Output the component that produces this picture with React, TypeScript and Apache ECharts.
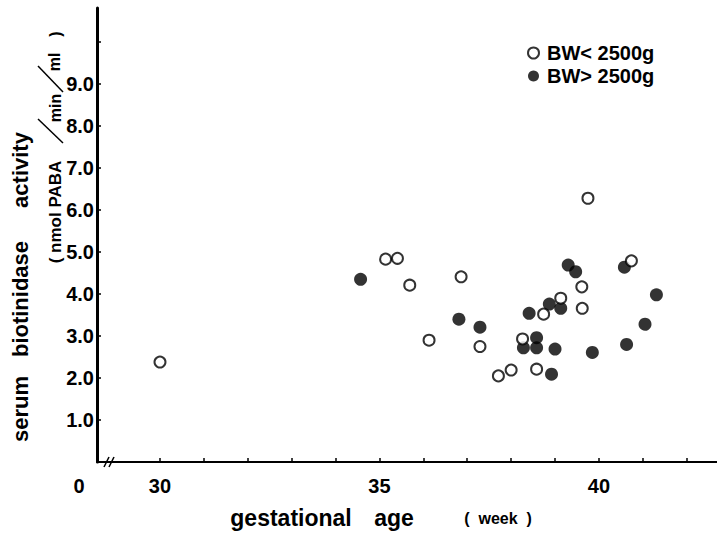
import React, { useEffect, useRef } from "react";
import * as echarts from "echarts";

// BW < 2500g (open circles)
const openWeeks = [30.0, 35.14, 35.41, 35.69, 36.13, 36.86, 37.29, 37.71, 38.0, 38.58, 38.26, 38.74, 39.13, 39.61, 39.62, 39.75, 40.74];
const openActivity = [2.38, 4.83, 4.85, 4.21, 2.9, 4.41, 2.75, 2.05, 2.19, 2.21, 2.93, 3.52, 3.9, 4.17, 3.66, 6.28, 4.79];

// BW > 2500g (filled circles)
const filledWeeks = [34.57, 36.81, 37.29, 38.41, 38.87, 39.13, 38.58, 38.28, 38.58, 39.0, 38.92, 39.3, 39.47, 39.85, 40.58, 40.63, 41.05, 41.31];
const filledActivity = [4.35, 3.4, 3.21, 3.54, 3.76, 3.66, 2.96, 2.72, 2.72, 2.69, 2.09, 4.69, 4.53, 2.61, 4.64, 2.8, 3.28, 3.98];

const xTickValues = [30, 31, 32, 33, 34, 35, 36, 37, 38, 39, 40, 41, 42];
const xLabelValues = [30, 35, 40];
const yTickValues = [1, 2, 3, 4, 5, 6, 7, 8, 9, 10];
const yLabelValues = [1, 2, 3, 4, 5, 6, 7, 8, 9];

const seriesNames = ["BW< 2500g", "BW> 2500g"];

const FONT = '"Liberation Sans", Arial, Helvetica, sans-serif';

function zip(a: number[], b: number[]) {
  return a.map((v, i) => [v, b[i]]);
}

export default function App() {
  const ref = useRef<HTMLDivElement>(null);

  useEffect(() => {
    if (!ref.current) return;
    const chart = echarts.init(ref.current, undefined, { renderer: "svg" });

    const txt = (text: string, x: number, y: number, size: number, rot = 0, extra: any = {}) => ({
      type: "text",
      x,
      y,
      rotation: rot,
      style: {
        text,
        fill: "#000",
        fontFamily: FONT,
        fontWeight: "bold",
        fontSize: size,
        textAlign: "center",
        textVerticalAlign: "middle",
        align: "center",
        verticalAlign: "middle",
        ...extra,
      },
    });
    const ln = (x1: number, y1: number, x2: number, y2: number, w = 1.5) => ({
      type: "line",
      shape: { x1, y1, x2, y2 },
      style: { stroke: "#000", lineWidth: w },
    });

    const R = Math.PI / 2;

    chart.setOption({
      animation: false,
      backgroundColor: "#fff",
      grid: { left: 97, right: 0, top: 8, bottom: 71, containLabel: false },
      legend: {
        orient: "vertical",
        left: 522,
        top: 38,
        itemWidth: 11,
        itemHeight: 11,
        itemGap: 3,
        textStyle: {
          fontFamily: FONT,
          fontWeight: "bold",
          fontSize: 20,
          color: "#000",
          padding: [0, 0, 0, 3],
        },
        data: [
          {
            name: seriesNames[0],
            icon: "circle",
            itemStyle: { color: "#fff", borderColor: "#000", borderWidth: 2 },
          },
          { name: seriesNames[1], icon: "circle", itemStyle: { color: "#000" } },
        ],
      },
      xAxis: {
        type: "value",
        min: 28.565,
        max: 42.69,
        axisLine: { show: true, onZero: false, lineStyle: { color: "#000", width: 2 } },
        axisTick: {
          show: true,
          inside: true,
          length: 4,
          customValues: xTickValues,
          lineStyle: { color: "#000", width: 1.5 },
        },
        axisLabel: {
          show: true,
          customValues: xLabelValues,
          margin: 14,
          color: "#000",
          fontFamily: FONT,
          fontWeight: "bold",
          fontSize: 20,
          formatter: (v: number) => String(v),
        },
        splitLine: { show: false },
      },
      yAxis: {
        type: "value",
        min: 0,
        max: 10.81,
        axisLine: { show: true, onZero: false, lineStyle: { color: "#000", width: 3 } },
        axisTick: {
          show: true,
          inside: true,
          length: 4,
          customValues: yTickValues,
          lineStyle: { color: "#000", width: 1.5 },
        },
        axisLabel: {
          show: true,
          customValues: yLabelValues,
          margin: 3,
          color: "#000",
          fontFamily: FONT,
          fontWeight: "bold",
          fontSize: 20,
          formatter: (v: number) => v.toFixed(1),
        },
        splitLine: { show: false },
      },
      series: [
        {
          name: seriesNames[1],
          type: "scatter",
          symbol: "circle",
          symbolSize: 13,
          itemStyle: { color: "#000" },
          data: zip(filledWeeks, filledActivity),
        },
        {
          name: seriesNames[0],
          type: "scatter",
          symbol: "circle",
          symbolSize: 11,
          itemStyle: { color: "#fff", borderColor: "#000", borderWidth: 2 },
          data: zip(openWeeks, openActivity),
        },
      ],
      graphic: [
        txt("0", 79, 486, 20),
        ln(104, 467, 109, 457),
        ln(109, 467, 114, 457),
        txt("serum", 20, 409, 22, R),
        txt("biotinidase", 20, 299, 22, R),
        txt("activity", 20, 170, 22, R),
        txt("( nmol PABA", 55, 212, 17, R),
        ln(38, 119, 63, 143),
        txt("min", 55, 108, 16, R),
        ln(38, 66, 63, 92),
        txt("ml", 54, 62, 16, R),
        txt(")", 55, 34, 16, R),
        txt("gestational", 291, 518, 23),
        txt("age", 394, 518, 23),
        txt("(  week  )", 498, 518, 16),
      ],
    });

    return () => chart.dispose();
  }, []);

  return (
    <div
      ref={ref}
      style={{ position: "fixed", left: 0, top: 0, width: 717, height: 533, background: "#fff" }}
    />
  );
}
